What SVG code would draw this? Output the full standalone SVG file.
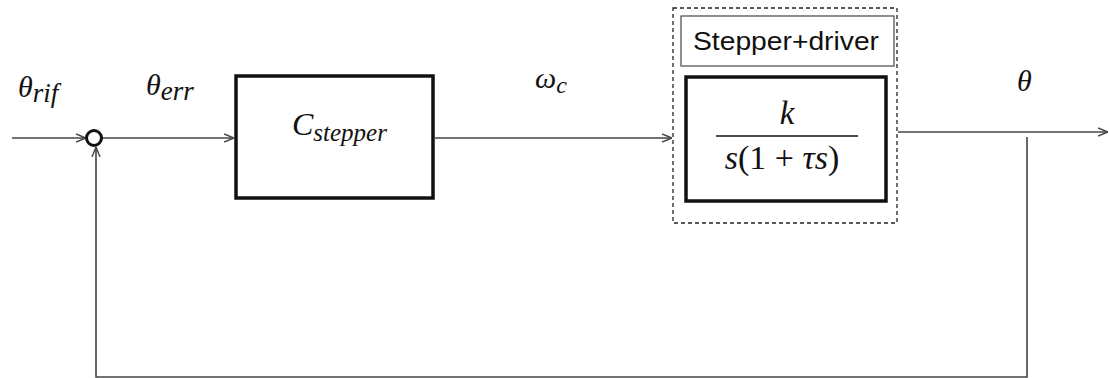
<svg xmlns="http://www.w3.org/2000/svg" width="1110" height="378" viewBox="0 0 1110 378">
  <style>
    .wire { fill: none; stroke: #444; stroke-width: 1.6; }
    .block { fill: #fff; stroke: #111; stroke-width: 3.5; }
    .math { font-family: "Liberation Serif", "DejaVu Serif", serif; font-style: italic; fill: #111; }
    .up { font-family: "Liberation Serif", "DejaVu Serif", serif; fill: #111; }
    .lbl { font-family: "Liberation Sans", Arial, sans-serif; fill: #111; }
  </style>
  <defs>
    <marker id="open" viewBox="0 0 10 10" refX="10" refY="5" markerWidth="10" markerHeight="10" markerUnits="userSpaceOnUse" orient="auto">
      <path d="M0,1 L10,5 L0,9" fill="none" stroke="#444" stroke-width="1.4"/>
    </marker>
  </defs>
  <rect width="1110" height="378" fill="#fff"/>

  <g id="connectors">
    <line class="wire" x1="12" y1="138" x2="86" y2="138" marker-end="url(#open)"/>
    <line class="wire" x1="102" y1="138" x2="234" y2="138" marker-end="url(#open)"/>
    <line class="wire" x1="435" y1="138" x2="672" y2="138" marker-end="url(#open)"/>
    <line class="wire" x1="898" y1="132" x2="1108" y2="132" marker-end="url(#open)"/>
    <polyline class="wire" points="1027,137 1027,377 96,377 96,147" marker-end="url(#open)"/>
  </g>

  <g id="labels">
    <text class="math" x="18" y="97" font-size="30">θ<tspan font-size="27" dy="5">rif</tspan></text>
    <text class="math" x="146" y="95" font-size="30">θ<tspan font-size="27" dy="5">err</tspan></text>
    <text class="math" x="535" y="88" font-size="30">ω<tspan font-size="24" dy="5">c</tspan></text>
    <text class="math" x="1017" y="91" font-size="30">θ</text>
  </g>

  <g id="sum">
    <circle cx="94" cy="138" r="7.5" fill="#fff" stroke="#111" stroke-width="3"/>
  </g>

  <g id="controller">
    <rect class="block" x="236" y="76" width="197" height="122"/>
    <text class="math" x="292" y="135" font-size="32">C<tspan font-size="25" dy="6">stepper</tspan></text>
  </g>

  <g id="plant">
    <rect x="673" y="8" width="224" height="215" fill="none" stroke="#222" stroke-width="1.3" stroke-dasharray="4,3"/>
    <rect x="681" y="16" width="213" height="50" fill="#fff" stroke="#555" stroke-width="1.3"/>
    <text class="lbl" x="693" y="50" font-size="25" textLength="186" lengthAdjust="spacingAndGlyphs">Stepper+driver</text>
    <rect class="block" x="686" y="77" width="200" height="124"/>
    <text class="math" x="787" y="124" font-size="33" text-anchor="middle">k</text>
    <line x1="716" y1="136" x2="858" y2="136" stroke="#111" stroke-width="1.5"/>
    <text class="up" x="782" y="169" font-size="34" text-anchor="middle"><tspan font-style="italic">s</tspan>(1 + <tspan font-style="italic">τs</tspan>)</text>
  </g>
</svg>
